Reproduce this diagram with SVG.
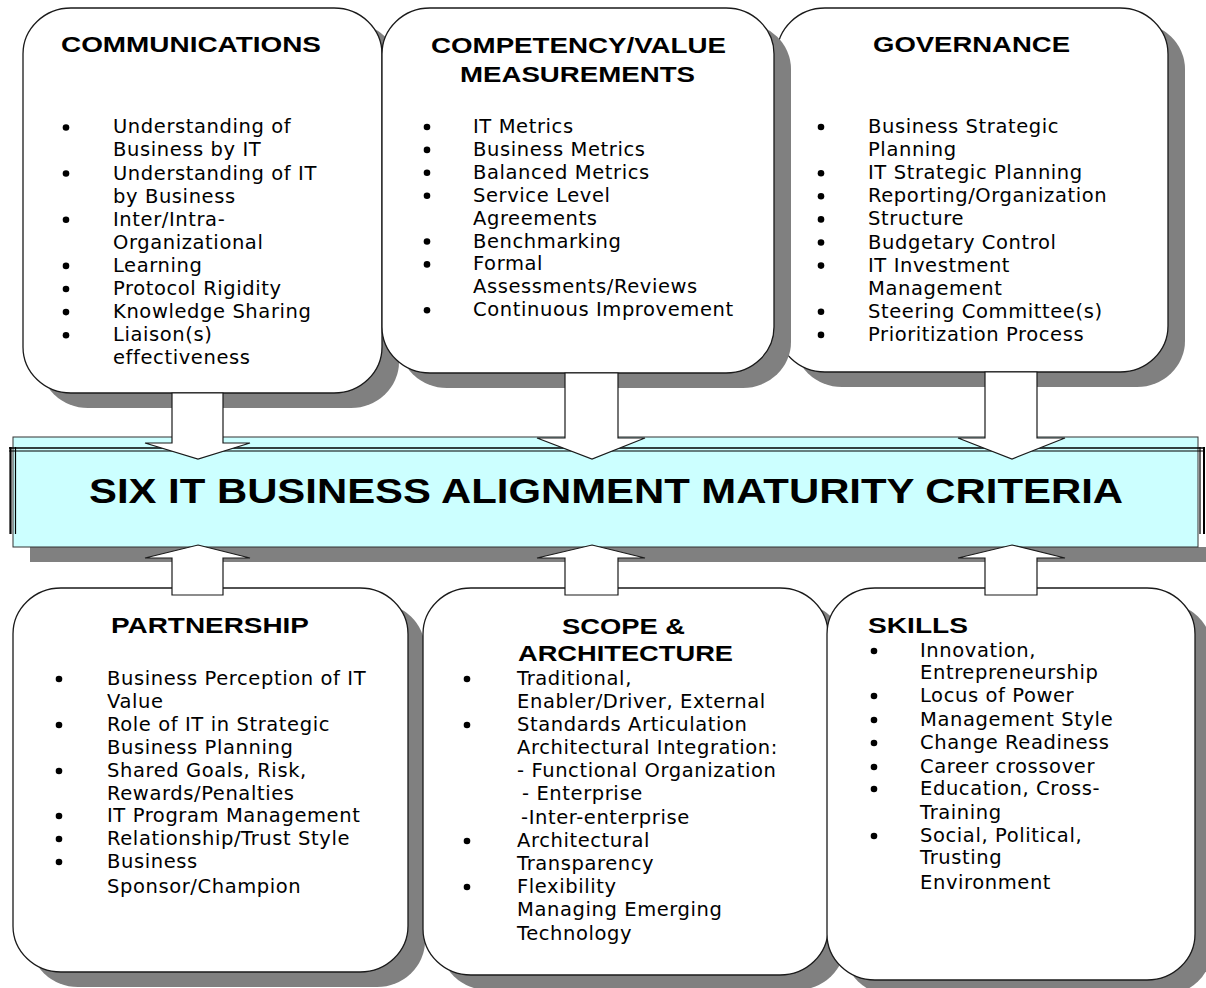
<svg xmlns="http://www.w3.org/2000/svg" width="1206" height="988" viewBox="0 0 1206 988">
<defs>
<style>
.sh{fill:#808080;stroke:none}
.bx{fill:#fff;stroke:#1a1a1a;stroke-width:1.3}
.ttl{font-family:"Liberation Sans",Arial,sans-serif;font-weight:bold;font-size:22.5px;fill:#000}
.bd{font-family:"DejaVu Sans","Verdana",sans-serif;font-size:19.5px;letter-spacing:0.6px;fill:#000}
.bul{fill:#000}
.arr{fill:#fff;stroke:#1a1a1a;stroke-width:1.2;stroke-linejoin:miter}
.dl{stroke:#000;fill:none}
</style>
</defs>
<rect width="1206" height="988" fill="#fff"/>

<!-- top row -->
<g id="communications">
<rect class="sh" x="40" y="23" width="359" height="385" rx="48" ry="46"/>
<rect class="bx" x="23" y="8" width="359" height="385" rx="48" ry="46"/>
<text class="ttl" x="61" y="52" textLength="260" lengthAdjust="spacingAndGlyphs">COMMUNICATIONS</text>
<g class="bul"><circle cx="66" cy="127.5" r="3.3"/><circle cx="66" cy="173.5" r="3.3"/><circle cx="66" cy="219.7" r="3.3"/><circle cx="66" cy="265.9" r="3.3"/><circle cx="66" cy="289" r="3.3"/><circle cx="66" cy="312.1" r="3.3"/><circle cx="66" cy="335.2" r="3.3"/></g>
<text class="bd" x="113"><tspan x="113" y="133.3">Understanding of</tspan><tspan x="113" y="156.4">Business by IT</tspan><tspan x="113" y="179.5">Understanding of IT</tspan><tspan x="113" y="202.6">by Business</tspan><tspan x="113" y="225.7">Inter/Intra-</tspan><tspan x="113" y="248.8">Organizational</tspan><tspan x="113" y="271.9">Learning</tspan><tspan x="113" y="295">Protocol Rigidity</tspan><tspan x="113" y="318.1">Knowledge Sharing</tspan><tspan x="113" y="341.2">Liaison(s)</tspan><tspan x="113" y="364.3">effectiveness</tspan></text>
</g>

<g id="governance">
<rect class="sh" x="794" y="23" width="391" height="364" rx="48" ry="46"/>
<rect class="bx" x="777" y="8" width="391" height="364" rx="48" ry="46"/>
<text class="ttl" x="873" y="52" textLength="197" lengthAdjust="spacingAndGlyphs">GOVERNANCE</text>
<g class="bul"><circle cx="821" cy="127" r="3.3"/><circle cx="821" cy="173.2" r="3.3"/><circle cx="821" cy="196.3" r="3.3"/><circle cx="821" cy="219.4" r="3.3"/><circle cx="821" cy="242.5" r="3.3"/><circle cx="821" cy="265.6" r="3.3"/><circle cx="821" cy="311.8" r="3.3"/><circle cx="821" cy="334.9" r="3.3"/></g>
<text class="bd" x="868"><tspan x="868" y="133">Business Strategic</tspan><tspan x="868" y="156.1">Planning</tspan><tspan x="868" y="179.2">IT Strategic Planning</tspan><tspan x="868" y="202.3">Reporting/Organization</tspan><tspan x="868" y="225.4">Structure</tspan><tspan x="868" y="248.5">Budgetary Control</tspan><tspan x="868" y="271.6">IT Investment</tspan><tspan x="868" y="294.7">Management</tspan><tspan x="868" y="317.8">Steering Committee(s)</tspan><tspan x="868" y="340.9">Prioritization Process</tspan></text>
</g>

<g id="competency">
<rect class="sh" x="399" y="23" width="392" height="365" rx="48" ry="46"/>
<rect class="bx" x="382" y="8" width="392" height="365" rx="48" ry="46"/>
<text class="ttl" x="431" y="53" textLength="295" lengthAdjust="spacingAndGlyphs">COMPETENCY/VALUE</text>
<text class="ttl" x="460" y="82" textLength="235" lengthAdjust="spacingAndGlyphs">MEASUREMENTS</text>
<g class="bul"><circle cx="427" cy="127" r="3.3"/><circle cx="427" cy="149.9" r="3.3"/><circle cx="427" cy="172.8" r="3.3"/><circle cx="427" cy="195.7" r="3.3"/><circle cx="427" cy="241.5" r="3.3"/><circle cx="427" cy="264.4" r="3.3"/><circle cx="427" cy="310.2" r="3.3"/></g>
<text class="bd" x="473"><tspan x="473" y="133">IT Metrics</tspan><tspan x="473" y="155.9">Business Metrics</tspan><tspan x="473" y="178.8">Balanced Metrics</tspan><tspan x="473" y="201.7">Service Level</tspan><tspan x="473" y="224.6">Agreements</tspan><tspan x="473" y="247.5">Benchmarking</tspan><tspan x="473" y="270.4">Formal</tspan><tspan x="473" y="293.3">Assessments/Reviews</tspan><tspan x="473" y="316.2">Continuous Improvement</tspan></text>
</g>

<!-- bottom row -->
<g id="partnership">
<rect class="sh" x="30" y="603" width="395" height="384" rx="48" ry="46"/>
<rect class="bx" x="13" y="588" width="395" height="384" rx="48" ry="46"/>
<text class="ttl" x="111" y="633" textLength="198" lengthAdjust="spacingAndGlyphs">PARTNERSHIP</text>
<g class="bul"><circle cx="59" cy="679" r="3.3"/><circle cx="59" cy="725" r="3.3"/><circle cx="59" cy="771" r="3.3"/><circle cx="59" cy="816" r="3.3"/><circle cx="59" cy="839" r="3.3"/><circle cx="59" cy="862" r="3.3"/></g>
<text class="bd" x="107"><tspan x="107" y="685">Business Perception of IT</tspan><tspan x="107" y="708">Value</tspan><tspan x="107" y="731">Role of IT in Strategic</tspan><tspan x="107" y="754">Business Planning</tspan><tspan x="107" y="777">Shared Goals, Risk,</tspan><tspan x="107" y="800">Rewards/Penalties</tspan><tspan x="107" y="822">IT Program Management</tspan><tspan x="107" y="845">Relationship/Trust Style</tspan><tspan x="107" y="868">Business</tspan><tspan x="107" y="893">Sponsor/Champion</tspan></text>
</g>

<g id="scope">
<rect class="sh" x="440" y="603" width="405" height="387" rx="48" ry="46"/>
<rect class="bx" x="423" y="588" width="405" height="387" rx="48" ry="46"/>
<text class="ttl" x="562" y="634" textLength="123" lengthAdjust="spacingAndGlyphs">SCOPE &amp;</text>
<text class="ttl" x="518" y="661" textLength="215" lengthAdjust="spacingAndGlyphs">ARCHITECTURE</text>
<g class="bul"><circle cx="467" cy="679" r="3.3"/><circle cx="467" cy="725" r="3.3"/><circle cx="467" cy="841" r="3.3"/><circle cx="467" cy="887" r="3.3"/></g>
<text class="bd" x="517"><tspan x="517" y="685">Traditional,</tspan><tspan x="517" y="708">Enabler/Driver, External</tspan><tspan x="517" y="731">Standards Articulation</tspan><tspan x="517" y="754">Architectural Integration:</tspan><tspan x="517" y="777">- Functional Organization</tspan><tspan x="522" y="800">- Enterprise</tspan><tspan x="521" y="824">-Inter-enterprise</tspan><tspan x="517" y="847">Architectural</tspan><tspan x="517" y="870">Transparency</tspan><tspan x="517" y="893">Flexibility</tspan><tspan x="517" y="916">Managing Emerging</tspan><tspan x="517" y="940">Technology</tspan></text>
</g>

<g id="skills">
<rect class="sh" x="844" y="603" width="368" height="392" rx="48" ry="46"/>
<rect class="bx" x="827" y="588" width="368" height="392" rx="48" ry="46"/>
<text class="ttl" x="868" y="633" textLength="100" lengthAdjust="spacingAndGlyphs">SKILLS</text>
<g class="bul"><circle cx="874" cy="651" r="3.3"/><circle cx="874" cy="696" r="3.3"/><circle cx="874" cy="720" r="3.3"/><circle cx="874" cy="743" r="3.3"/><circle cx="874" cy="767" r="3.3"/><circle cx="874" cy="789" r="3.3"/><circle cx="874" cy="836" r="3.3"/></g>
<text class="bd" x="920"><tspan x="920" y="657">Innovation,</tspan><tspan x="920" y="679">Entrepreneurship</tspan><tspan x="920" y="702">Locus of Power</tspan><tspan x="920" y="726">Management Style</tspan><tspan x="920" y="749">Change Readiness</tspan><tspan x="920" y="773">Career crossover</tspan><tspan x="920" y="795">Education, Cross-</tspan><tspan x="920" y="819">Training</tspan><tspan x="920" y="842">Social, Political,</tspan><tspan x="920" y="864">Trusting</tspan><tspan x="920" y="889">Environment</tspan></text>
</g>

<!-- central banner -->
<g id="criteria">
<rect class="sh" x="30" y="547" width="1176" height="15"/>
<rect x="13" y="437" width="1185" height="110" fill="#ccffff" stroke="#333" stroke-width="1"/>
<line class="dl" x1="9" y1="448" x2="1204" y2="448" stroke-width="1.4"/>
<line class="dl" x1="9" y1="451" x2="1204" y2="451" stroke-width="1.2"/>
<line class="dl" x1="10.5" y1="447" x2="10.5" y2="534" stroke-width="2.2"/>
<line class="dl" x1="15.5" y1="447" x2="15.5" y2="534" stroke-width="1.2"/>
<line class="dl" x1="1200" y1="447" x2="1200" y2="534" stroke-width="1.2"/>
<line class="dl" x1="1204" y1="447" x2="1204" y2="534" stroke-width="2"/>
<text x="89" y="503" font-family="'Liberation Sans',Arial,sans-serif" font-weight="bold" font-size="35" textLength="1034" lengthAdjust="spacingAndGlyphs" fill="#000">SIX IT BUSINESS ALIGNMENT MATURITY CRITERIA</text>
</g>

<!-- connectors -->
<g id="connectors">
<polygon class="arr" points="172,393 223,393 223,443 250,443 198,459 145,443 172,443"/>
<polygon class="arr" points="565,373 618,373 618,438 645,438 592,459 537,438 565,438"/>
<polygon class="arr" points="985,372 1037,372 1037,438 1065,438 1012,459 958,438 985,438"/>
<polygon class="arr" points="198,545 250,558 223,558 223,595 172,595 172,558 145,558"/>
<polygon class="arr" points="592,545 645,558 618,558 618,595 565,595 565,558 537,558"/>
<polygon class="arr" points="1012,545 1065,558 1037,558 1037,595 985,595 985,558 958,558"/>
</g>
</svg>
